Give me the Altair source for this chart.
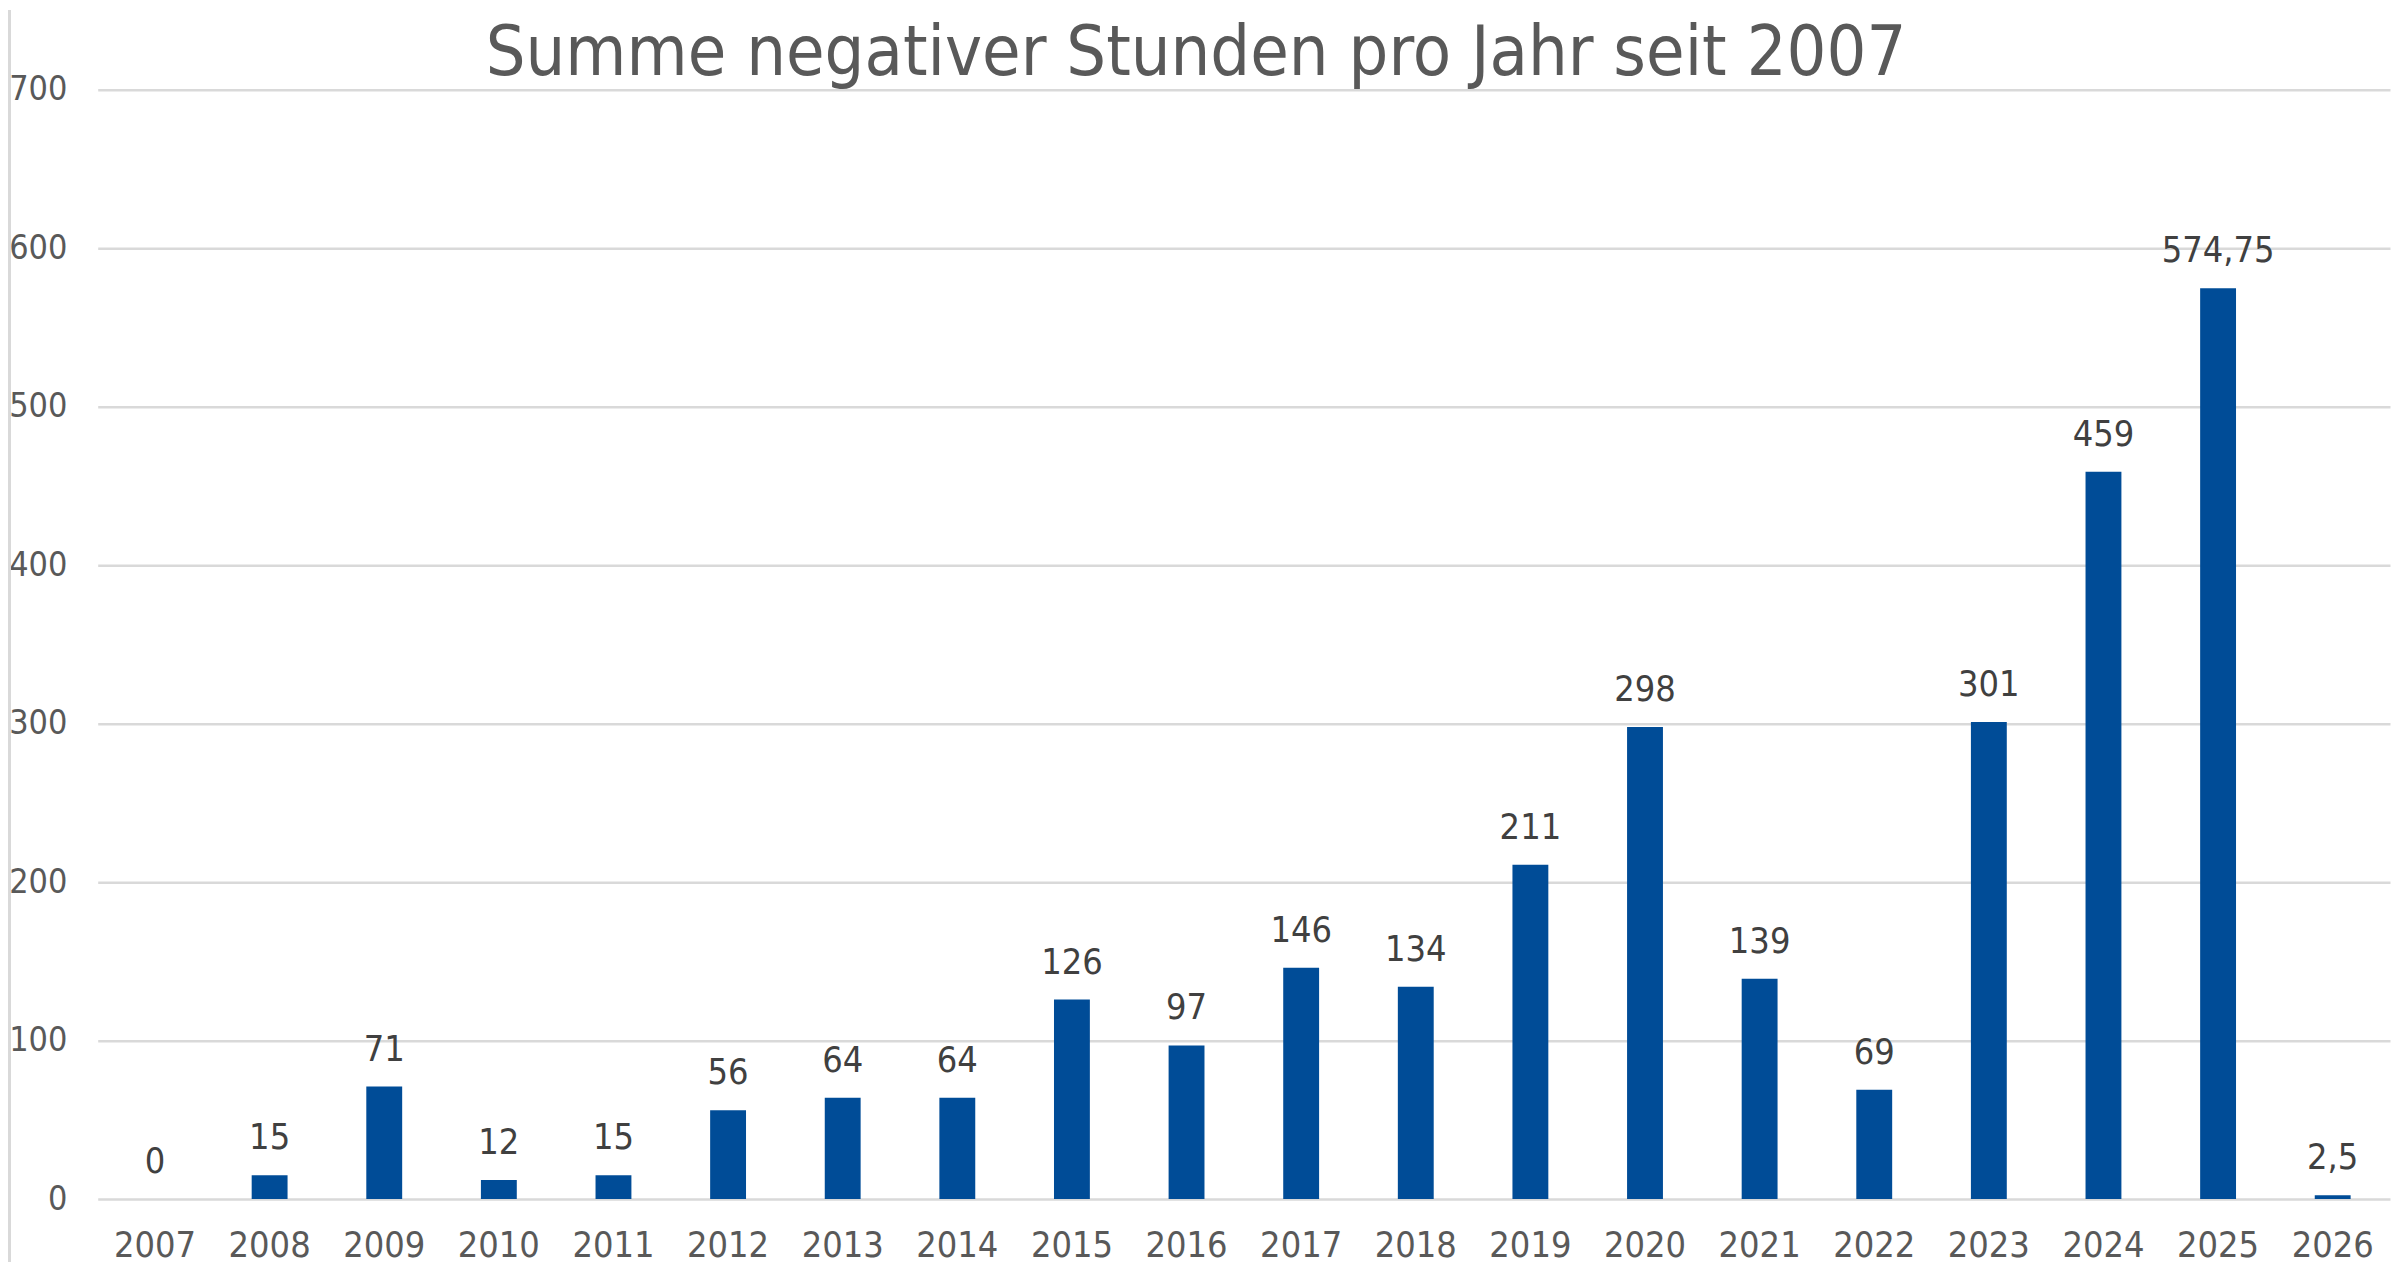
import altair as alt
import pandas as pd

# Data
years = [str(y) for y in range(2007, 2027)]
hours = [0, 15, 71, 12, 15, 56, 64, 64, 126, 97, 146, 134, 211, 298, 139, 69,
         301, 459, 574.75, 2.5]
y_ticks = [0, 100, 200, 300, 400, 500, 600, 700]
title_text = ["Summe negativer Stunden pro Jahr seit 2007"]

df = pd.DataFrame({"Jahr": years, "Stunden": hours})

FONT = "DejaVu Sans Condensed, Tahoma, DejaVu Sans, sans-serif"
GRAY = "#595959"
GRID = "#D9D9D9"
BAR = "#004C97"

W = 2300
H = 1113

base = alt.Chart(df).transform_calculate(
    label="replace(format(datum.Stunden, '.2~f'), '.', ',')"
)

x_enc = alt.X(
    "Jahr:N",
    sort=None,
    title=None,
    scale=alt.Scale(paddingInner=0, paddingOuter=0),
    axis=alt.Axis(
        labelAngle=0,
        labelFontSize=36,
        labelColor=GRAY,
        labelFont=FONT,
        labelPadding=30,
        domain=False,
        ticks=False,
        grid=False,
    ),
)
y_enc = alt.Y(
    "Stunden:Q",
    title=None,
    scale=alt.Scale(domain=[0, 700], nice=False),
    axis=alt.Axis(
        values=y_ticks,
        labelFontSize=34,
        labelColor=GRAY,
        labelFont=FONT,
        labelPadding=31,
        domain=False,
        ticks=False,
        grid=True,
        gridColor=GRID,
        gridWidth=2.5,
    ),
)

bars = base.mark_bar(size=36, color=BAR).encode(x=x_enc, y=y_enc)

labels = base.mark_text(
    baseline="alphabetic",
    align="center",
    dy=-26,
    fontSize=36,
    font=FONT,
    color="#404040",
).encode(x=x_enc, y=y_enc, text="label:N")

border = alt.Chart(df).mark_rule(color=GRID, strokeWidth=3).encode(
    x=alt.value(-88.5),
    y=alt.value(-80),
    y2=alt.value(H + 63),
)

title = alt.Chart(pd.DataFrame({"t": title_text})).mark_text(
    fontSize=70,
    font=FONT,
    color=GRAY,
    align="center",
    baseline="alphabetic",
).encode(
    text="t:N",
    x=alt.value(1200 - 98),
    y=alt.value(73 - 88),
)

chart = (
    alt.layer(border, bars, labels, title)
    .properties(
        width=W,
        height=H,
        background="white",
        autosize=alt.AutoSizeParams(type="none"),
        padding={"left": 90, "top": 80, "right": 2, "bottom": 63},
    )
    .configure_view(strokeWidth=0, stroke="transparent")
)

chart.save("out.html", embed_options={"renderer": "svg", "actions": False})
